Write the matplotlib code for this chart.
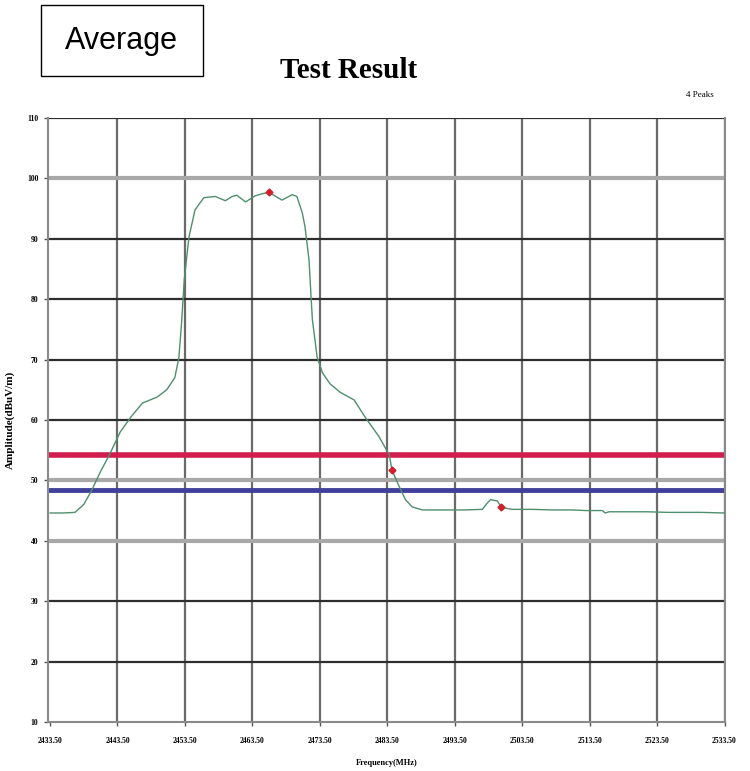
import matplotlib.pyplot as plt
from matplotlib.patches import Rectangle

# spectrum trace (MHz, dBuV/m)
freq_mhz = [2433.5, 2435.5, 2437.2, 2438.5, 2439.7, 2441.0, 2442.3, 2443.9, 2445.5,
            2447.2, 2449.4, 2450.8, 2452.0, 2452.6, 2453.0, 2453.4, 2454.1, 2455.0,
            2456.3, 2458.0, 2459.5, 2460.5, 2461.2, 2462.5, 2463.9, 2464.8, 2465.9,
            2467.9, 2469.4, 2470.1, 2470.9, 2471.3, 2471.9, 2472.2, 2472.4, 2473.1,
            2473.9, 2475.0, 2476.5, 2478.6, 2480.2, 2482.3, 2483.8, 2484.2, 2485.3,
            2486.2, 2487.2, 2488.7, 2492.0, 2495.0, 2497.6, 2498.3, 2498.8, 2499.8,
            2500.4, 2501.0, 2502.0, 2505.0, 2508.0, 2511.0, 2513.0, 2515.4, 2515.8,
            2516.4, 2519.0, 2522.0, 2525.0, 2528.0, 2530.0, 2533.5]
amp_dbuv = [44.6, 44.6, 44.7, 46.0, 48.4, 51.5, 54.2, 58.0, 60.5,
            62.8, 63.8, 65.0, 67.0, 70.3, 76.0, 83.2, 90.3, 94.8,
            96.8, 97.0, 96.3, 97.0, 97.2, 96.1, 97.1, 97.4, 97.7,
            96.4, 97.3, 97.0, 94.3, 92.0, 86.5, 80.4, 76.6, 70.4,
            67.8, 66.0, 64.6, 63.3, 60.5, 57.2, 54.2, 51.7, 48.9,
            46.8, 45.6, 45.1, 45.1, 45.1, 45.2, 46.2, 46.8, 46.6,
            45.6, 45.4, 45.2, 45.2, 45.1, 45.1, 45.0, 45.0, 44.6,
            44.8, 44.8, 44.8, 44.7, 44.7, 44.7, 44.6]

# marked peaks
peak_freq = [2465.9, 2484.2, 2500.4]
peak_amp = [97.7, 51.7, 45.6]

# limit lines
limit_red = 54.2
limit_blue = 48.4

x_ticks = [2433.5 + 10 * i for i in range(11)]
y_ticks = list(range(10, 111, 10))
light_rows = [100, 50, 40]

fig = plt.figure(figsize=(7.5, 7.71), dpi=100)
ax = fig.add_axes([0.064, 0.0636, 0.902, 0.7834])

ax.set_xlim(2433.2, x_ticks[-1])
ax.set_ylim(10, 110)

for x in x_ticks[1:]:
    ax.axvline(x, color='#6a6a6a', linewidth=1.6, zorder=1)
for y in y_ticks[1:]:
    if y in light_rows:
        ax.axhline(y, color='#a8a8a8', linewidth=3.0, zorder=1)
    else:
        ax.axhline(y, color='#2e2e2e', linewidth=1.6, zorder=1)

ax.axhline(limit_red, color='#d21e4e', linewidth=4.0, zorder=2)
ax.axhline(limit_blue, color='#40409a', linewidth=3.5, zorder=2)

ax.plot(freq_mhz, amp_dbuv, color='#4f8f6d', linewidth=1.0, zorder=3)
ax.plot(peak_freq, peak_amp, linestyle='none', marker='D', markersize=3.5,
        color='#d0202a', zorder=4)

for side in ('left', 'bottom', 'right'):
    ax.spines[side].set_color('#8a8a8a')
    ax.spines[side].set_linewidth(1.5)
ax.spines['top'].set_visible(False)

ax.set_xticks(x_ticks)
ax.set_xticklabels([f'{x:.2f}' for x in x_ticks])
ax.set_yticks(y_ticks)
ax.tick_params(axis='both', length=3, width=1, color='#555555', labelsize=5.5)
ax.tick_params(axis='x', pad=8)
ax.tick_params(axis='y', pad=4)
for lbl in ax.get_xticklabels() + ax.get_yticklabels():
    lbl.set_fontfamily('Liberation Serif')
    lbl.set_fontweight('bold')

ax.set_xlabel('Frequency(MHz)', fontsize=6, fontweight='bold',
              family='Liberation Serif', labelpad=10)
ax.set_ylabel('Amplitude(dBuV/m)', fontsize=8, fontweight='bold',
              family='Liberation Serif', labelpad=9)

fig.text(0.465, 0.909, 'Test Result', ha='center', va='center',
         fontsize=21, family='Liberation Serif', fontweight='bold')
fig.text(0.933, 0.877, '4 Peaks', ha='center', va='center',
         fontsize=6.5, family='Liberation Serif')

fig.patches.append(Rectangle((0.054, 0.901), 0.217, 0.093, transform=fig.transFigure,
                             fill=False, edgecolor='black', linewidth=1.0))
fig.text(0.162, 0.947, 'Average', ha='center', va='center',
         fontsize=22, family='Liberation Sans')

fig.savefig('out.png', dpi=100)
